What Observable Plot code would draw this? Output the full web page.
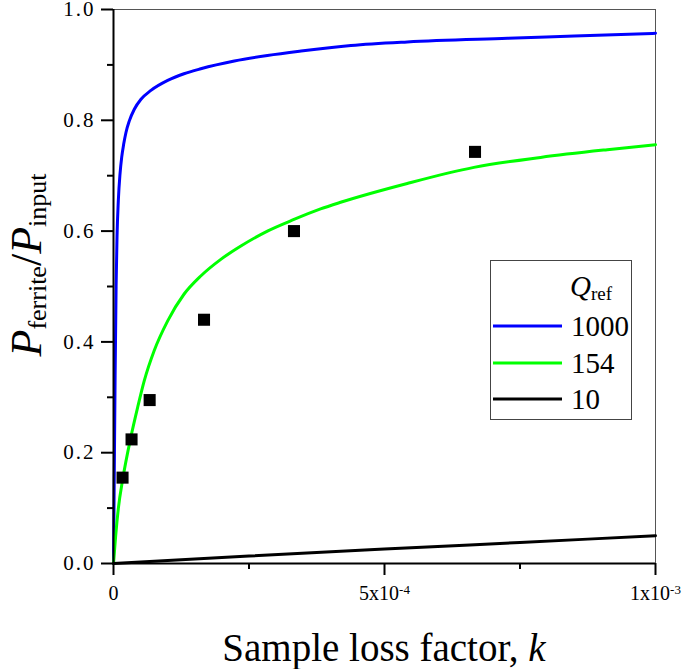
<!DOCTYPE html>
<html>
<head>
<meta charset="utf-8">
<script src="https://cdn.jsdelivr.net/npm/d3@7"></script>
<script src="https://cdn.jsdelivr.net/npm/@observablehq/plot@0.6"></script>
<style>
  html, body { margin: 0; padding: 0; background: #fff; }
  svg { display: block; }
</style>
</head>
<body>
<div id="chart"></div>
<script>
// ---- Data ----
const seriesNames = ["1000", "154", "10"];
const seriesColors = ["#0000ff", "#00ff00", "#000000"];

const kQ1000 = [0, 1.5e-6, 3.0e-6, 4.8e-6, 6.5e-6, 8.9e-6, 1.2e-5, 1.51e-5, 1.88e-5, 2.3e-5, 2.92e-5, 3.84e-5, 5.07e-5, 6.91e-5, 1.0e-4, 1.3e-4, 1.61e-4, 2.23e-4, 2.84e-4, 3.46e-4, 4.38e-4, 5.42e-4, 7.27e-4, 8.5e-4, 1.0e-3];
const pQ1000 = [0, 0.17, 0.34, 0.50, 0.59, 0.655, 0.703, 0.733, 0.757, 0.778, 0.799, 0.820, 0.838, 0.854, 0.872, 0.884, 0.893, 0.907, 0.917, 0.925, 0.935, 0.9415, 0.948, 0.952, 0.957];

const kQ154 = [0, 4.0e-6, 9.0e-6, 1.7e-5, 3.2e-5, 4.46e-5, 5.68e-5, 7.5e-5, 1.0e-4, 1.3e-4, 1.61e-4, 1.98e-4, 2.35e-4, 2.84e-4, 3.33e-4, 3.82e-4, 4.19e-4, 5.42e-4, 6.65e-4, 7.88e-4, 9.11e-4, 1.0e-3];
const pQ154 = [0, 0.05, 0.10, 0.152, 0.228, 0.282, 0.330, 0.384, 0.438, 0.486, 0.519, 0.549, 0.573, 0.600, 0.621, 0.640, 0.652, 0.686, 0.715, 0.733, 0.747, 0.756];

const kQ10 = [0, 2.5e-4, 5.0e-4, 7.5e-4, 1.0e-3];
const pQ10 = [0, 0.0135, 0.026, 0.038, 0.050];

const kMeasured = [1.67e-5, 3.33e-5, 6.67e-5, 1.67e-4, 3.33e-4, 6.67e-4];
const pMeasured = [0.155, 0.224, 0.295, 0.44, 0.60, 0.743];

const xMajorTicks = [0, 5e-4, 1e-3];
const xMinorTicks = [2.5e-4, 7.5e-4];
const xTickLabels = ["0", "5x10|-4", "1x10|-3"];
const yMajorTicks = [0, 0.2, 0.4, 0.6, 0.8, 1.0];
const yMinorTicks = [0.1, 0.3, 0.5, 0.7, 0.9];

// ---- Build tables ----
const zip = (ks, ps, name) => ks.map((k, i) => ({k, p: ps[i], q: name}));
const curves = [
  zip(kQ1000, pQ1000, "1000"),
  zip(kQ154, pQ154, "154"),
  zip(kQ10, pQ10, "10")
];
const measured = zip(kMeasured, pMeasured, "meas");

const font = "'Liberation Serif', 'Times New Roman', serif";

const svg = Plot.plot({
  width: 685,
  height: 669,
  marginLeft: 113,
  marginRight: 30,
  marginTop: 9,
  marginBottom: 106,
  x: {domain: [0, 1e-3]},
  y: {domain: [0, 1]},
  marks: [
    Plot.frame({stroke: "#555", strokeWidth: 1}),
    ...curves.map((c, i) => Plot.line(c, {x: "k", y: "p", stroke: seriesColors[i], strokeWidth: 3, curve: "monotone-x"})),
    Plot.dot(measured, {x: "k", y: "p", symbol: "square", fill: "#000", r: 6.8}),
    Plot.ruleX([0], {stroke: "#000", strokeWidth: 2}),
    Plot.ruleY([0], {stroke: "#000", strokeWidth: 2}),
    Plot.axisY({ticks: yMajorTicks, tickSize: 12, tickPadding: 6, strokeWidth: 2, tickFormat: d => d.toFixed(1), label: null}),
    Plot.axisY({ticks: yMinorTicks, tickSize: 6, strokeWidth: 2, tickFormat: () => "", label: null}),
    Plot.axisX({ticks: xMajorTicks, tickSize: 12, tickPadding: 10, strokeWidth: 2, tickFormat: d => xTickLabels[xMajorTicks.indexOf(d)], label: null}),
    Plot.axisX({ticks: xMinorTicks, tickSize: 6, strokeWidth: 2, tickFormat: () => "", label: null})
  ]
});

document.getElementById("chart").appendChild(svg);
const s = d3.select(svg);
s.style("background", "#fff").style("font-family", font);

// Tick label styling and superscript exponents
s.selectAll('g[aria-label="x-axis tick label"] text')
  .style("font-family", font).style("font-size", "20px").style("fill", "#000");
s.selectAll('g[aria-label="y-axis tick label"] text')
  .style("font-family", font).style("font-size", "21px").style("letter-spacing", "2px").style("fill", "#000");
s.selectAll("text").each(function() {
  const t = this.textContent;
  if (t.includes("|")) {
    const [base, exp] = t.split("|");
    const sel = d3.select(this);
    sel.text(null);
    sel.append("tspan").text(base);
    sel.append("tspan").style("font-size", "13px").attr("dy", "-0.45em").text(exp);
  }
});

// Y axis title
const yt = s.append("text")
  .attr("transform", "translate(41,265) rotate(-90)")
  .attr("text-anchor", "middle")
  .style("font-family", font)
  .style("font-size", "44px")
  .attr("fill", "#000");
yt.append("tspan").style("font-style", "italic").text("P");
yt.append("tspan").style("font-size", "26px").attr("dy", 5).text("ferrite");
yt.append("tspan").attr("dy", -5).text("/");
yt.append("tspan").style("font-style", "italic").text("P");
yt.append("tspan").style("font-size", "26px").attr("dy", 5).text("input");

// X axis title
const xt = s.append("text")
  .attr("x", 384).attr("y", 661)
  .attr("text-anchor", "middle")
  .style("font-family", font)
  .style("font-size", "39px")
  .attr("fill", "#000");
xt.append("tspan").text("Sample loss factor, ");
xt.append("tspan").style("font-style", "italic").text("k");

// Legend
const lg = s.append("g").attr("fill", "#000").attr("text-anchor", "start");
lg.append("rect").attr("x", 490.5).attr("y", 260.5).attr("width", 141).attr("height", 159)
  .attr("fill", "#fff").attr("stroke", "#444").attr("stroke-width", 1);
const qt = lg.append("text").attr("x", 570).attr("y", 296)
  .style("font-family", font).style("font-size", "29px");
qt.append("tspan").style("font-style", "italic").text("Q");
qt.append("tspan").style("font-size", "19px").attr("dy", 4).text("ref");
const rowY = [326, 363, 399];
seriesNames.forEach((name, i) => {
  lg.append("line").attr("x1", 493).attr("x2", 562).attr("y1", rowY[i]).attr("y2", rowY[i])
    .attr("stroke", seriesColors[i]).attr("stroke-width", 3);
  lg.append("text").attr("x", 571).attr("y", rowY[i] + 10)
    .style("font-family", font).style("font-size", "29px").text(name);
});
</script>
</body>
</html>
